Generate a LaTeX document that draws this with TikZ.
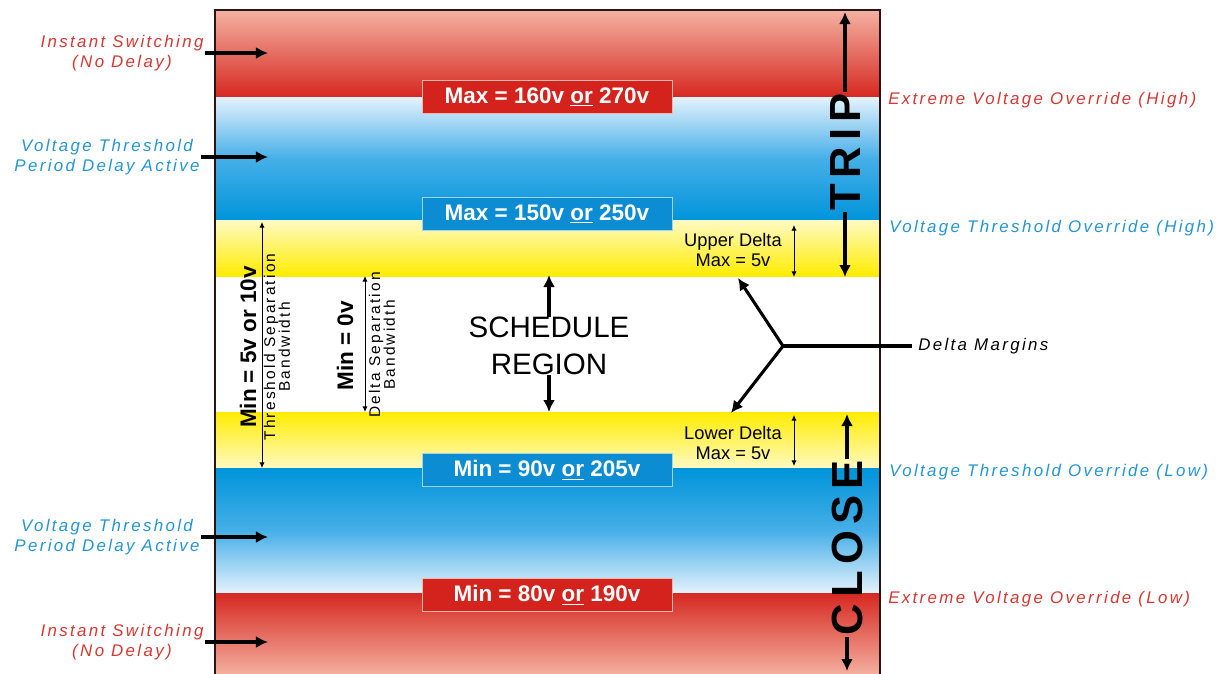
\documentclass[tikz,border=0pt]{standalone}
\usepackage{fontspec}
\setmainfont{Liberation Sans}
\newfontfamily\lblfont[LetterSpace=14]{Liberation Sans}
\usetikzlibrary{arrows.meta}
\definecolor{reddeep}{RGB}{214,40,32}
\definecolor{redlight}{RGB}{244,178,162}
\definecolor{bluedeep}{RGB}{0,148,218}
\definecolor{bluemid}{RGB}{70,175,232}
\definecolor{bluelight}{RGB}{228,242,252}
\definecolor{yellowdeep}{RGB}{255,236,0}
\definecolor{yellowlight}{RGB}{255,250,195}
\definecolor{redbox}{RGB}{212,34,28}
\definecolor{bluebox}{RGB}{12,140,210}
\definecolor{redpale}{RGB}{245,180,170}
\definecolor{bluepale}{RGB}{160,212,242}
\definecolor{redtext}{RGB}{215,55,50}
\definecolor{bluetext}{RGB}{35,150,212}
\definecolor{framedark}{RGB}{45,20,20}
\tikzstyle{valbox} = [rectangle, minimum width=6.25cm, minimum height=0.82cm, text centered, text=white, font=\fontsize{16}{18}\selectfont\bfseries]
\tikzstyle{redvalue} = [valbox, fill=redbox, draw=redpale]
\tikzstyle{bluevalue} = [valbox, fill=bluebox, draw=bluepale]
\tikzstyle{zonelabel} = [align=center, inner sep=1pt, font=\lblfont\itshape\fontsize{12}{14}\selectfont]
\tikzstyle{sidelabel} = [anchor=west, inner sep=0pt, font=\lblfont\itshape\fontsize{12}{14}\selectfont]
\tikzstyle{rotmin} = [rotate=90, inner sep=0pt, font=\fontsize{16}{18}\selectfont\bfseries]
\tikzstyle{rotnote} = [rotate=90, align=center, inner sep=0pt, font=\lblfont\fontsize{11}{10.5}\selectfont]
\tikzstyle{deltanote} = [align=center, inner sep=0pt, font=\fontsize{13}{14}\selectfont]
\tikzstyle{bigword} = [rotate=90, inner sep=1pt, font=\lblfont\bfseries\fontsize{31}{33}\selectfont]
\tikzstyle{bigarrow} = [line width=2.2pt, -{Latex[length=0.3cm,width=0.3cm]}]
\tikzstyle{thinarrow} = [line width=0.6pt, {Latex[length=0.14cm,width=0.13cm]}-{Latex[length=0.14cm,width=0.13cm]}]

\begin{document}
\begin{tikzpicture}[x=0.025cm, y=-0.025cm]
      \useasboundingbox (0,0) rectangle (1232,673);
      % Bands
      \shade [top color=redlight, bottom color=reddeep] (215,10) rectangle (880,97);
      \shade [top color=bluelight, bottom color=bluedeep, middle color=bluemid] (215,97) rectangle (880,220);
      \shade [top color=yellowlight, bottom color=yellowdeep] (215,220) rectangle (880,276);
      \shade [top color=yellowdeep, bottom color=yellowlight] (215,412) rectangle (880,468);
      \shade [top color=bluedeep, bottom color=bluelight, middle color=bluemid] (215,468) rectangle (880,593);
      \shade [top color=reddeep, bottom color=redlight] (215,593) rectangle (880,676);
      \draw [line width=1.2pt, framedark] (215,676) -- (215,10) -- (880,10) -- (880,676);
      % Coordinates
      \coordinate (tipcol) at (268,0);
      \coordinate (tripTop) at (845,12);
      \coordinate (tripBot) at (845,277);
      \coordinate (closeTop) at (847,414);
      \coordinate (closeBot) at (847,671);
      \coordinate (schedTop) at (549,275);
      \coordinate (schedBot) at (549,412);
      \coordinate (tsTop) at (262,222);
      \coordinate (tsBot) at (262,468);
      \coordinate (dsTop) at (365,276);
      \coordinate (dsBot) at (365,412);
      \coordinate (udTop) at (794,225);
      \coordinate (udBot) at (794,277);
      \coordinate (ldTop) at (794,415);
      \coordinate (ldBot) at (794,466);
      \coordinate (junc) at (783,346);
      \coordinate (upperTip) at (738,278);
      \coordinate (lowerTip) at (731,413);
      % Nodes
      \node (maxHi) [redvalue] at (547,97) {Max = 160v \underline{or} 270v};
      \node (maxTh) [bluevalue] at (547,214) {Max = 150v \underline{or} 250v};
      \node (minTh) [bluevalue] at (547,470) {Min = 90v \underline{or} 205v};
      \node (minLo) [redvalue] at (547,595) {Min = 80v \underline{or} 190v};
      \node (inst1) [zonelabel, text=redtext] at (122,53) {Instant Switching\\(No Delay)};
      \node (vt1) [zonelabel, text=bluetext] at (107,157) {Voltage Threshold\\Period Delay Active};
      \node (vt2) [zonelabel, text=bluetext] at (107,537) {Voltage Threshold\\Period Delay Active};
      \node (inst2) [zonelabel, text=redtext] at (122,642) {Instant Switching\\(No Delay)};
      \node (evHi) [sidelabel, text=redtext] at (888,100) {Extreme Voltage Override (High)};
      \node (vtHi) [sidelabel, text=bluetext] at (889,228) {Voltage Threshold Override (High)};
      \node (vtLo) [sidelabel, text=bluetext] at (889,472) {Voltage Threshold Override (Low)};
      \node (evLo) [sidelabel, text=redtext] at (888,599) {Extreme Voltage Override (Low)};
      \node (dm) [sidelabel] at (918,346) {Delta Margins};
      \node (trip) [bigword] at (845,152) {TRIP};
      \node (close) [bigword] at (847,548) {CLOSE};
      \node (sched) [inner sep=0pt, align=center, font=\fontsize{21}{26}\selectfont] at (549,346) {SCHEDULE\\REGION};
      \node (tsMin) [rotmin] at (248,347) {Min = 5v or 10v};
      \node (tsNote) [rotnote] at (277,347) {Threshold Separation\\Bandwidth};
      \node (dsMin) [rotmin] at (345,346) {Min = 0v};
      \node (dsNote) [rotnote] at (382,345) {Delta Separation\\Bandwidth};
      \node (ud) [deltanote] at (733,250) {Upper Delta\\Max = 5v};
      \node (ld) [deltanote] at (733,443) {Lower Delta\\Max = 5v};
      % Arrows
      \draw [bigarrow] (inst1.east) -- (inst1.east -| tipcol);
      \draw [bigarrow] (vt1.east) -- (vt1.east -| tipcol);
      \draw [bigarrow] (vt2.east) -- (vt2.east -| tipcol);
      \draw [bigarrow] (inst2.east) -- (inst2.east -| tipcol);
      \draw [bigarrow] (trip.east) -- (tripTop);
      \draw [bigarrow] (trip.west) -- (tripBot);
      \draw [bigarrow] (close.east) -- (closeTop);
      \draw [bigarrow] (close.west) -- (closeBot);
      \draw [bigarrow] (sched.north) -- (schedTop);
      \draw [bigarrow] (sched.south) -- (schedBot);
      \draw [thinarrow] (tsTop) -- (tsBot);
      \draw [thinarrow] (dsTop) -- (dsBot);
      \draw [thinarrow] (udTop) -- (udBot);
      \draw [thinarrow] (ldTop) -- (ldBot);
      \draw [line width=2.2pt] (dm.west) ++(-6,0) -- (junc);
      \draw [bigarrow] (junc) -- (upperTip);
      \draw [bigarrow] (junc) -- (lowerTip);
    \end{tikzpicture}
\end{document}
